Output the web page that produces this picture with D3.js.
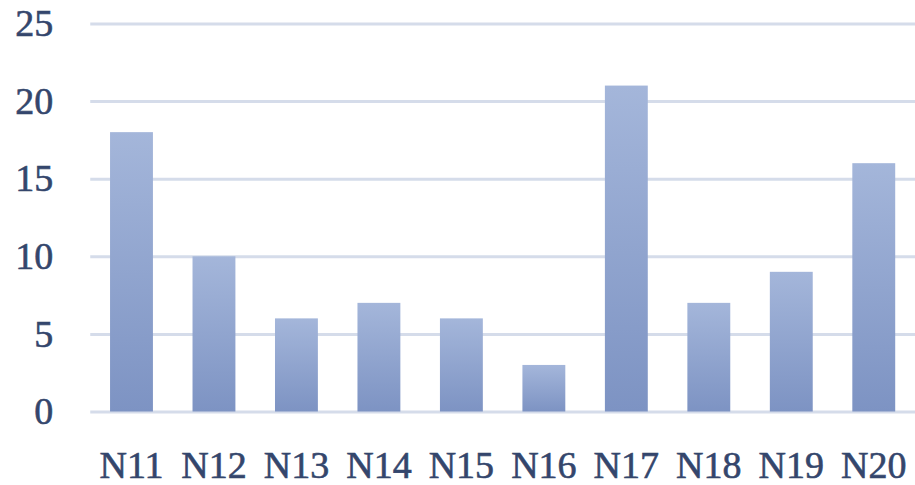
<!DOCTYPE html>
<html>
<head>
<meta charset="utf-8">
<script src="https://cdn.jsdelivr.net/npm/d3@7"></script>
<style>
  html, body { margin: 0; padding: 0; background: #fff; }
  svg { display: block; }
</style>
</head>
<body>
<svg id="chart" width="915" height="485"></svg>
<script>
// Category labels and their counts
const categories = ["N11", "N12", "N13", "N14", "N15", "N16", "N17", "N18", "N19", "N20"];
const values = [18, 10, 6, 7, 6, 3, 21, 7, 9, 16];
const yTicks = [0, 5, 10, 15, 20, 25];

const svg = d3.select("#chart");
const plotLeft = 90.25, plotRight = 915, plotTop = 23.5, plotBottom = 411.5;

const x = d3.scaleBand().domain(categories).range([plotLeft, plotRight]).paddingInner(0.48).paddingOuter(0.24);
const y = d3.scaleLinear().domain([0, 25]).range([plotBottom, plotTop]);

// Vertical gradient for the bars: lighter at the top, deeper at the base
const defs = svg.append("defs");
const grad = defs.append("linearGradient")
  .attr("id", "barGrad").attr("x1", 0).attr("y1", 0).attr("x2", 0).attr("y2", 1);
grad.append("stop").attr("offset", "0%").attr("stop-color", "#a4b6da");
grad.append("stop").attr("offset", "100%").attr("stop-color", "#7d93c3");

const textColor = "#34466c";
const fontFamily = "'Liberation Serif', 'DejaVu Serif', serif";

// Shared look for axis labels: serif, slightly heavier than the regular face
function styleLabels(sel, size) {
  sel.attr("fill", textColor)
    .attr("stroke", textColor)
    .attr("stroke-width", 0.6)
    .style("font-family", fontFamily)
    .style("font-size", size + "px");
}

// Horizontal gridlines (including the baseline)
const yAxis = d3.axisLeft(y).tickValues(yTicks).tickSize(-(plotRight - plotLeft)).tickPadding(37);
const gy = svg.append("g").attr("transform", `translate(${plotLeft},0)`).call(yAxis);
gy.select(".domain").remove();
gy.selectAll(".tick line").attr("stroke", "#d5dcea").attr("stroke-width", 3);
styleLabels(gy.selectAll(".tick text"), 38);

// Bars
svg.append("g").selectAll("rect")
  .data(categories)
  .join("rect")
  .attr("x", (d) => x(d))
  .attr("width", x.bandwidth())
  .attr("y", (d, i) => y(values[i]))
  .attr("height", (d, i) => y(0) - y(values[i]))
  .attr("fill", "url(#barGrad)");

// Category axis labels
const xAxis = d3.axisBottom(x).tickSize(0).tickPadding(40);
const gx = svg.append("g").attr("transform", `translate(0,${plotBottom})`).call(xAxis);
gx.select(".domain").remove();
styleLabels(gx.selectAll(".tick text"), 38);
</script>
</body>
</html>
